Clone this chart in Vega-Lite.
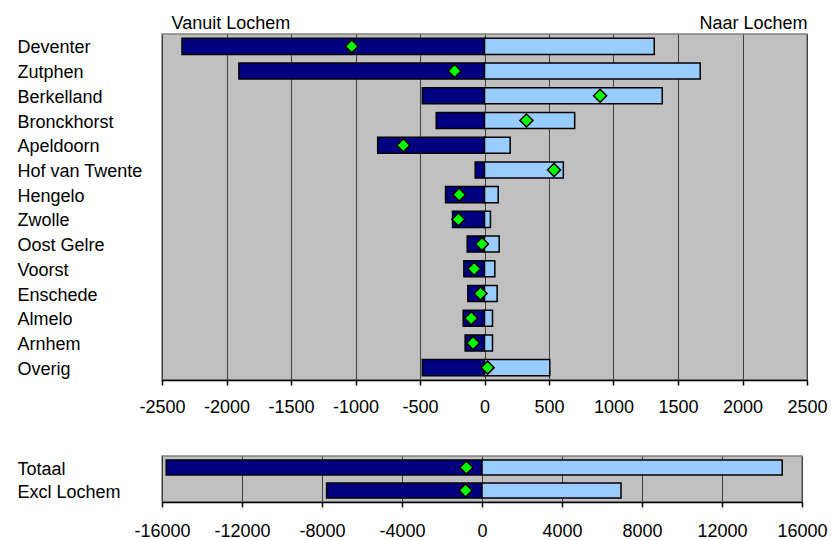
{
  "$schema": "https://vega.github.io/schema/vega-lite/v6.json",
  "padding": {"left": 16, "top": 13, "right": 5, "bottom": 0},
  "background": "white",
  "spacing": 38,
  "datasets": {
    "steden": [
      {"stad": "Deventer", "vanuit": -2345, "naar": 1316, "saldo": -1029},
      {"stad": "Zutphen", "vanuit": -1904, "naar": 1672, "saldo": -232},
      {"stad": "Berkelland", "vanuit": -482, "naar": 1378, "saldo": 896},
      {"stad": "Bronckhorst", "vanuit": -374, "naar": 699, "saldo": 325},
      {"stad": "Apeldoorn", "vanuit": -828, "naar": 199, "saldo": -629},
      {"stad": "Hof van Twente", "vanuit": -72, "naar": 611, "saldo": 539},
      {"stad": "Hengelo", "vanuit": -302, "naar": 106, "saldo": -196},
      {"stad": "Zwolle", "vanuit": -248, "naar": 46, "saldo": -202},
      {"stad": "Oost Gelre", "vanuit": -134, "naar": 114, "saldo": -20},
      {"stad": "Voorst", "vanuit": -160, "naar": 80, "saldo": -80},
      {"stad": "Enschede", "vanuit": -129, "naar": 98, "saldo": -31},
      {"stad": "Almelo", "vanuit": -165, "naar": 62, "saldo": -103},
      {"stad": "Arnhem", "vanuit": -150, "naar": 62, "saldo": -88},
      {"stad": "Overig", "vanuit": -482, "naar": 506, "saldo": 24}
    ],
    "totaal": [
      {"stad": "Totaal", "vanuit": -15790, "naar": 15010, "saldo": -780},
      {"stad": "Excl Lochem", "vanuit": -7770, "naar": 6950, "saldo": -820}
    ]
  },
  "config": {
    "font": "Liberation Sans",
    "view": {"fill": "#C0C0C0", "stroke": "#808080", "strokeWidth": 1.5},
    "axis": {"labelFont": "Liberation Sans", "labelFontSize": 18, "labelColor": "#000000", "title": null}
  },
  "vconcat": [
    {
      "width": 645,
      "height": 346,
      "data": {"name": "steden"},
      "encoding": {
        "y": {
          "field": "stad", "type": "nominal", "sort": null, "title": null,
          "scale": {"paddingInner": 0.35, "paddingOuter": 0.175},
          "axis": {"labelAlign": "left", "labelPadding": 145, "labelOffset": 2, "ticks": false, "domain": false, "labelLimit": 200, "title": null}
        }
      },
      "layer": [
        {
          "mark": {"type": "bar", "color": "#000080", "stroke": "#000000", "strokeWidth": 1.5},
          "encoding": {
            "x": {
              "field": "vanuit", "type": "quantitative", "title": null,
              "scale": {"domain": [-2500, 2500], "nice": false},
              "axis": {"orient": "bottom", "values": [-2500, -2000, -1500, -1000, -500, 0, 500, 1000, 1500, 2000, 2500], "labelExpr": "'' + datum.value", "grid": true, "gridColor": "#404040", "gridWidth": 1, "domainColor": "#000000", "domainWidth": 1.5, "tickColor": "#000000", "tickSize": 5, "tickWidth": 1.5, "labelPadding": 13, "labelOverlap": false, "labelFlush": false, "labelBound": false, "title": null}
            }
          }
        },
        {
          "mark": {"type": "bar", "color": "#99CCFF", "stroke": "#000000", "strokeWidth": 1.5},
          "encoding": {
            "x": {"field": "naar", "type": "quantitative", "title": null, "axis": null}
          }
        },
        {
          "mark": {"type": "point", "shape": "diamond", "filled": true, "size": 169, "fill": "#00FF00", "stroke": "#000000", "strokeWidth": 1.5, "opacity": 1},
          "encoding": {
            "x": {
              "field": "saldo", "type": "quantitative", "title": null,
              "axis": {"orient": "top", "values": [-2430, 2500], "labelExpr": "datum.value < 0 ? 'Vanuit Lochem' : 'Naar Lochem'", "labelAlign": {"condition": {"test": "datum.value < 0", "value": "left"}, "value": "right"}, "ticks": false, "domain": false, "grid": false, "labelPadding": 2, "labelOverlap": false, "labelBound": false, "labelFlush": false, "title": null}
            }
          }
        }
      ],
      "resolve": {"axis": {"x": "independent"}}
    },
    {
      "width": 640,
      "height": 46,
      "data": {"name": "totaal"},
      "encoding": {
        "y": {
          "field": "stad", "type": "nominal", "sort": null, "title": null,
          "scale": {"paddingInner": 0.35, "paddingOuter": 0.175},
          "axis": {"labelAlign": "left", "labelPadding": 145, "labelOffset": 2, "ticks": false, "domain": false, "labelLimit": 200, "title": null}
        }
      },
      "layer": [
        {
          "mark": {"type": "bar", "color": "#000080", "stroke": "#000000", "strokeWidth": 1.5},
          "encoding": {
            "x": {
              "field": "vanuit", "type": "quantitative", "title": null,
              "scale": {"domain": [-16000, 16000], "nice": false},
              "axis": {"orient": "bottom", "values": [-16000, -12000, -8000, -4000, 0, 4000, 8000, 12000, 16000], "labelExpr": "'' + datum.value", "grid": true, "gridColor": "#404040", "gridWidth": 1, "domainColor": "#000000", "domainWidth": 1.5, "tickColor": "#000000", "tickSize": 5, "tickWidth": 1.5, "labelPadding": 15, "labelOverlap": false, "labelFlush": false, "labelBound": false, "title": null}
            }
          }
        },
        {
          "mark": {"type": "bar", "color": "#99CCFF", "stroke": "#000000", "strokeWidth": 1.5},
          "encoding": {
            "x": {"field": "naar", "type": "quantitative", "title": null}
          }
        },
        {
          "mark": {"type": "point", "shape": "diamond", "filled": true, "size": 169, "fill": "#00FF00", "stroke": "#000000", "strokeWidth": 1.5, "opacity": 1},
          "encoding": {
            "x": {"field": "saldo", "type": "quantitative", "title": null}
          }
        }
      ]
    }
  ]
}
